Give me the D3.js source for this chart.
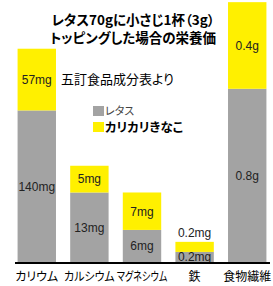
<!DOCTYPE html>
<html>
<head>
<meta charset="utf-8">
<script src="https://cdn.jsdelivr.net/npm/d3@7"></script>
<style>
body { margin: 0; background: #fff; }
svg text { font-family: "Liberation Sans", "Noto Sans CJK JP", sans-serif; }
.jp { font-family: "Noto Sans CJK JP", sans-serif; font-feature-settings: "palt"; }
</style>
</head>
<body>
<div id="chart"></div>
<script>
	// nutrients and values (from the picture)
	var categories = ["カリウム", "カルシウム", "マグネシウム", "鉄", "食物繊維"];
	var lettuce = [140, 13, 6, 0.2, 0.8];
	var kinako = [57, 5, 7, 0.2, 0.4];
	var units = ["mg", "mg", "mg", "mg", "g"];
	// each bar has its own scale top (the chart is not on a shared axis)
	var scaleTop = [242, 49, 49, 5.2, 1.21];
	var seriesNames = ["レタス", "カリカリきなこ"];
	var colors = ["#a3a3a3", "#fff000"];

	var W = 273, H = 286;
	var margin = {top: 0, right: 5, bottom: 24, left: 16};
	var baseY = H - margin.bottom;

	var svg = d3.select("#chart").append("svg").attr("width", W).attr("height", H);

	var x = d3.scaleBand().domain(categories).range([margin.left, W - margin.right])
		.paddingInner(0.27).paddingOuter(0.03);

	function yFor(i) {
		return d3.scaleLinear().domain([0, scaleTop[i]]).range([baseY, margin.top]);
	}

	categories.forEach(function(c, i) {
		var y = yFor(i);
		var g = svg.append("g");
		var segs = [
			{v0: 0, v1: lettuce[i], col: colors[0], val: lettuce[i]},
			{v0: lettuce[i], v1: lettuce[i] + kinako[i], col: colors[1], val: kinako[i]}
		];
		g.selectAll("rect").data(segs).enter().append("rect")
			.attr("x", x(c)).attr("width", x.bandwidth())
			.attr("y", function(d) { return y(d.v1); })
			.attr("height", function(d) { return y(d.v0) - y(d.v1); })
			.attr("fill", function(d) { return d.col; });
		g.selectAll("text").data(segs).enter().append("text")
			.attr("x", x(c) + x.bandwidth() / 2)
			.attr("y", function(d, j) {
				var h = y(d.v0) - y(d.v1);
				if (j == 1 && h < 16) return y(d.v1) - 9; // too small, put above
				return (y(d.v0) + y(d.v1)) / 2;
			})
			.attr("dy", "0.36em")
			.attr("text-anchor", "middle")
			.attr("font-size", 12)
			.attr("fill", "#222")
			.text(function(d) { return d.val + units[i]; });
	});

	// baseline
	svg.append("line").attr("x1", 15).attr("x2", 270)
		.attr("y1", baseY + 1).attr("y2", baseY + 1)
		.attr("stroke", "#000").attr("stroke-width", 2);

	// category labels, squeezed if wider than a band step
	svg.selectAll("text.cat").data(categories).enter().append("text")
		.attr("class", "cat jp")
		.attr("x", function(d) { return x(d) + x.bandwidth() / 2; })
		.attr("y", baseY + 15)
		.attr("dy", "0.36em")
		.attr("text-anchor", "middle")
		.attr("font-size", 12)
		.text(function(d) { return d; })
		.each(function() {
			var maxW = x.step() - 2;
			if (this.getComputedTextLength() > maxW)
				d3.select(this).attr("textLength", maxW).attr("lengthAdjust", "spacingAndGlyphs");
		});

	// title
	var title = ["レタス70gに小さじ1杯（3g）", "トッピングした場合の栄養価"];
	svg.selectAll("text.title").data(title).enter().append("text")
		.attr("class", "title jp")
		.attr("x", 133).attr("y", function(d, i) { return 20 + i * 18; })
		.attr("dy", "0.36em")
		.attr("text-anchor", "middle")
		.attr("font-size", 13.5)
		.attr("font-weight", "bold")
		.text(function(d) { return d; });

	svg.append("text").attr("class", "jp")
		.attr("x", 61).attr("y", 79).attr("dy", "0.36em")
		.attr("font-size", 13)
		.text("五訂食品成分表より");

	// legend
	var lg = svg.append("g").attr("transform", "translate(93,106)");
	seriesNames.forEach(function(s, i) {
		lg.append("rect").attr("x", 0).attr("y", i * 16).attr("width", 11).attr("height", 10)
			.attr("fill", colors[i]);
		lg.append("text").attr("class", "jp")
			.attr("x", 12).attr("y", i * 16 + 5).attr("dy", "0.36em")
			.attr("font-size", i == 0 ? 11 : 12.5)
			.attr("font-weight", i == 0 ? "normal" : "bold")
			.attr("fill", i == 0 ? "#444" : "#000")
			.text(s);
	});
</script>
</body>
</html>
